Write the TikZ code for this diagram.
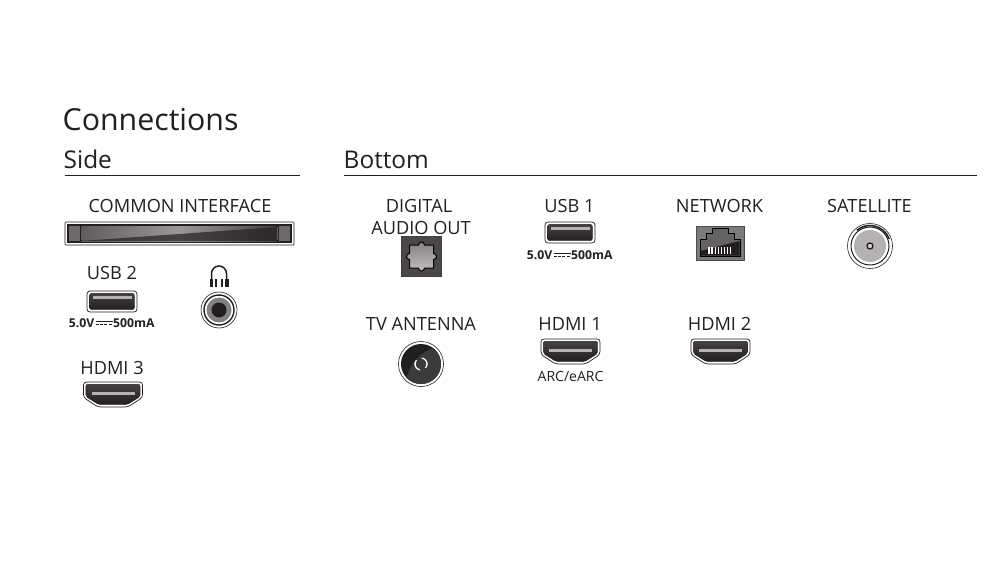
\documentclass[tikz,border=0pt]{standalone}
\usepackage{fontspec}
\setmainfont{Open Sans}
\definecolor{ink}{HTML}{231F20}
\definecolor{mid}{HTML}{6E6B6B}
\definecolor{lite}{HTML}{B4B2B2}
\tikzset{
  lbl/.style={font=\fontsize{18.2}{20}\selectfont, text=ink, inner sep=0pt, anchor=base},
  smalllbl/.style={font=\fontsize{12.2}{14}\selectfont\bfseries, text=ink, inner sep=0pt},
  head/.style={font=\fontsize{24.4}{27}\selectfont, text=ink, inner sep=0pt, anchor=base west},
  rulel/.style={draw=ink, line width=0.7pt},
  outer/.style={draw=ink, line width=0.7pt, fill=white},
  usbport/.pic={
    \draw[outer, rounded corners=3] (-25,-10.5) rectangle (25,10.5);
    \path[rounded corners=2.5, top color=ink!85, bottom color=ink, draw=ink] (-22.5,-8.2) rectangle (22.5,8.2);
    \fill[lite] (-19.5,-5.5) rectangle (19.5,-3);
  },
  hdmiport/.pic={
    \draw[outer, rounded corners=3] (-29.5,-12.5) -- (29.5,-12.5) -- (29.5,3) -- (15,12.5) -- (-15,12.5) -- (-29.5,3) -- cycle;
    \path[rounded corners=2, draw=ink, top color=ink!85, bottom color=ink] (-27.2,-10.2) -- (27.2,-10.2) -- (27.2,2) -- (14,10.2) -- (-14,10.2) -- (-27.2,2) -- cycle;
    \fill[lite] (-21.5,-3) rectangle (21.5,0);
  }
}
\begin{document}
\begin{tikzpicture}[x=1pt,y=-1pt]
\useasboundingbox (0,0) rectangle (1008,572);
\fill[white] (0,0) rectangle (1008,572);
% headings
\node[head, font=\fontsize{30.3}{33}\selectfont] (tconn) at (62.5,131) {Connections};
\node[head] (tside) at (63.5,168) {Side};
\node[head] (tbot) at (343.5,168) {Bottom};
\coordinate (sa) at (65,175.5); \coordinate (sb) at (300,175.5);
\coordinate (ba) at (344,175.5); \coordinate (bb) at (977,175.5);
\draw[rulel] (sa) -- (sb);
\draw[rulel] (ba) -- (bb);
% labels
\node[lbl] (lci) at (180,212) {COMMON INTERFACE};
\node[lbl] (lusb2) at (112,279) {USB 2};
\node[lbl] (lhdmi3) at (112,374) {HDMI 3};
\node[lbl] (ldig1) at (419,212) {DIGITAL};
\node[lbl] (ldig2) at (421,234) {AUDIO OUT};
\node[lbl] (lusb1) at (569.5,212) {USB 1};
\node[lbl] (lnet) at (719.5,212) {NETWORK};
\node[lbl] (lsat) at (869.5,212) {SATELLITE};
\node[lbl] (ltv) at (421,330.5) {TV ANTENNA};
\node[lbl] (lhdmi1) at (570,330.5) {HDMI 1};
\node[lbl] (lhdmi2) at (719.5,330.5) {HDMI 2};
\node[smalllbl, anchor=base east] (lp2a) at (94.5,327.5) {5.0V};
\node[smalllbl, anchor=base west] (lp2b) at (113,327.5) {500mA};
\node[smalllbl, anchor=base east] (lp1a) at (552.5,259.5) {5.0V};
\node[smalllbl, anchor=base west] (lp1b) at (571,259.5) {500mA};
\node[font=\fontsize{14}{16}\selectfont, text=ink, inner sep=0pt, anchor=base] (larc) at (570.5,381) {ARC/eARC};
% DC symbol near power labels
\foreach \cx/\cy in {104/322.8, 562/254.8}{
  \draw[ink, line width=0.8pt] (\cx-8.5,\cy-1.4) -- (\cx+8.5,\cy-1.4);
  \draw[ink, line width=0.8pt, dash pattern=on 3 off 1.4] (\cx-8.5,\cy+1.4) -- (\cx+8.5,\cy+1.4);
}
% common interface
\draw[outer, rounded corners=1] (65,222) rectangle (294,245);
\fill[ink] (67,224) rectangle (292,243);
\fill[mid] (69,226) rectangle (290,241);
\path[left color=mid!80!ink, right color=ink!85, middle color=mid!70] (81,226.5) rectangle (277,241);
\path[fill=ink, opacity=.7] (81,241) -- (277,241) -- (277,227) -- cycle;
\draw[ink, line width=0.9pt] (82,226.5) -- (80,226.5) -- (80,240.5) -- (82,240.5);
\draw[ink, line width=0.9pt] (276,226.5) -- (278,226.5) -- (278,240.5) -- (276,240.5);
% usb and hdmi
\pic at (112,301.5) {usbport};
\pic at (570,232.5) {usbport};
\pic at (113,394.5) {hdmiport};
\pic at (570.5,351.5) {hdmiport};
\pic at (720.5,351.5) {hdmiport};
% headphone icon
\draw[ink, line width=1.5pt] (211.5,280) -- (211.5,273.5) arc[start angle=180, end angle=360, radius=7.5] -- (226.5,280);
\fill[ink] (209.5,278.5) rectangle (213,287);
\fill[ink] (225,278.5) rectangle (228.5,287);
\fill[ink] (215,278.5) rectangle (216.6,287);
\fill[ink] (221.4,278.5) rectangle (223,287);
% headphone jack
\draw[ink, line width=0.6pt, fill=white] (219,310) circle[radius=18];
\draw[ink, line width=1.4pt, fill=white] (219,310) circle[radius=15];
\fill[mid!85] (219,310) circle[radius=12.5];
\fill[ink] (219,310) circle[radius=7.5];
% optical
\fill[ink!82] (401,236) rectangle (441.5,276.5);
\draw[black!75, line width=0.6pt] (401,236) rectangle (441.5,276.5);
\path[draw=black, line width=1pt, top color=mid!85, bottom color=lite!85] (409.5,245) -- (418.5,245) arc[start angle=180,end angle=360,radius=3] -- (433.5,245) -- (433.5,253.5) arc[start angle=-90,end angle=90,radius=3] -- (433.5,268) -- (424.5,268) arc[start angle=0,end angle=180,radius=3] -- (409.5,268) -- (409.5,259.5) arc[start angle=90,end angle=270,radius=3] -- cycle;
% network
\fill[mid!90] (696,226) rectangle (744,260);
\draw[black!70, line width=0.6pt] (696,226) rectangle (744,260);
\path[fill=ink!70, draw=black, line width=1pt] (700,256) -- (700,239.5) -- (706,239.5) -- (706,233.5) -- (712,233.5) -- (712,228) -- (728,228) -- (728,233.5) -- (734,233.5) -- (734,239.5) -- (740,239.5) -- (740,256) -- cycle;
\fill[ink] (700.5,255.5) -- (700.5,251) -- (739.5,241) -- (739.5,255.5) -- cycle;
\foreach \i in {0,...,7}{ \fill[white] (708.4+\i*3.05,247) rectangle (709.6+\i*3.05,254); }
% satellite
\draw[ink, line width=0.6pt, fill=white] (870,246) circle[radius=22.5];
\draw[ink, line width=1pt] (870,246) circle[radius=19];
\draw[ink, line width=1.5pt] (870,246) ++(-20:20.5) arc[start angle=-20,end angle=-130,radius=20.5];
\fill[lite] (870,246) circle[radius=16];
\draw[ink, line width=1.3pt, fill=lite!60] (870,246) circle[radius=3];
% antenna
\draw[ink, line width=0.6pt, fill=white] (421,364) circle[radius=22.5];
\fill[ink!95!black] (421,364) circle[radius=20];
\begin{scope}
\clip (421,364) circle[radius=20];
\path[fill=mid!35!ink] (440,346) .. controls (422,350) and (408,362) .. (405,386) -- (445,390) -- cycle;
\end{scope}
\draw[white, line width=1.3pt] (421,364) ++(-80:6) arc[start angle=-80,end angle=40,radius=6];
\draw[white, line width=1.3pt] (421,364) ++(100:6) arc[start angle=100,end angle=220,radius=6];
\end{tikzpicture}
\end{document}
